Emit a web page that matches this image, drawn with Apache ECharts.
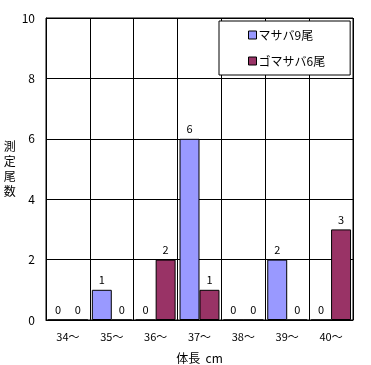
<!DOCTYPE html>
<html><head><meta charset="utf-8">
<script src="https://cdn.jsdelivr.net/npm/echarts@6/dist/echarts.min.js"></script>
<style>html,body{margin:0;padding:0;background:#fff}#c{width:371px;height:365px}</style>
</head><body><div id="c"></div>
<script>
const categories = ['34～','35～','36～','37～','38～','39～','40～'];
const masaba = [0,1,0,6,0,2,0];
const gomasaba = [0,0,2,1,0,0,3];
const seriesNames = ['マサバ9尾','ゴマサバ6尾'];
const yTicks = [0,2,4,6,8,10];

const font = '"Noto Sans CJK JP", sans-serif';
const chart = echarts.init(document.getElementById('c'), null, {renderer:'canvas'});
const lbl = {show:true, position:'top', distance:4, color:'#000', fontSize:11, fontFamily:font};
chart.setOption({
  animation:false,
  backgroundColor:'#fff',
  grid:{left:46, top:18, right:18, bottom:45, show:true, borderColor:'#000', borderWidth:1,
        containLabel:false, outerBoundsMode:'none'},
  legend:{
    orient:'vertical', left:219, top:21,
    padding:[8,25,8,29], itemGap:14,
    itemWidth:8, itemHeight:8,
    borderColor:'#000', borderWidth:1, backgroundColor:'#fff',
    textStyle:{fontSize:12, fontFamily:font, color:'#000', padding:[0,0,0,-3]},
    data:seriesNames.map(n=>({name:n, icon:'rect', itemStyle:{borderColor:'#000', borderWidth:1}}))
  },
  xAxis:{
    type:'category', data:categories,
    name:'体長  cm', nameLocation:'middle', nameGap:32,
    nameTextStyle:{fontSize:12, fontFamily:font, color:'#000'},
    axisLine:{lineStyle:{color:'#000'}},
    axisTick:{show:false},
    axisLabel:{color:'#000', fontSize:11, fontFamily:font, margin:11},
    splitLine:{show:true, lineStyle:{color:'#000', width:1}}
  },
  yAxis:{
    type:'value', min:0, max:10, interval:2,
    name:'測\n定\n尾\n数', nameLocation:'middle', nameGap:27, nameRotate:0,
    nameTextStyle:{fontSize:12, fontFamily:font, color:'#000', lineHeight:15},
    axisLine:{show:true, lineStyle:{color:'#000'}},
    axisTick:{show:false},
    axisLabel:{color:'#000', fontSize:12, fontFamily:font, margin:11},
    splitLine:{show:true, lineStyle:{color:'#000', width:1}}
  },
  series:[
    {name:seriesNames[0], type:'bar', data:masaba, barGap:'0%', barCategoryGap:'9%',
     itemStyle:{color:'#9999FF', borderColor:'#000', borderWidth:1}, label:lbl},
    {name:seriesNames[1], type:'bar', data:gomasaba,
     itemStyle:{color:'#993366', borderColor:'#000', borderWidth:1}, label:lbl}
  ]
});
</script></body></html>
